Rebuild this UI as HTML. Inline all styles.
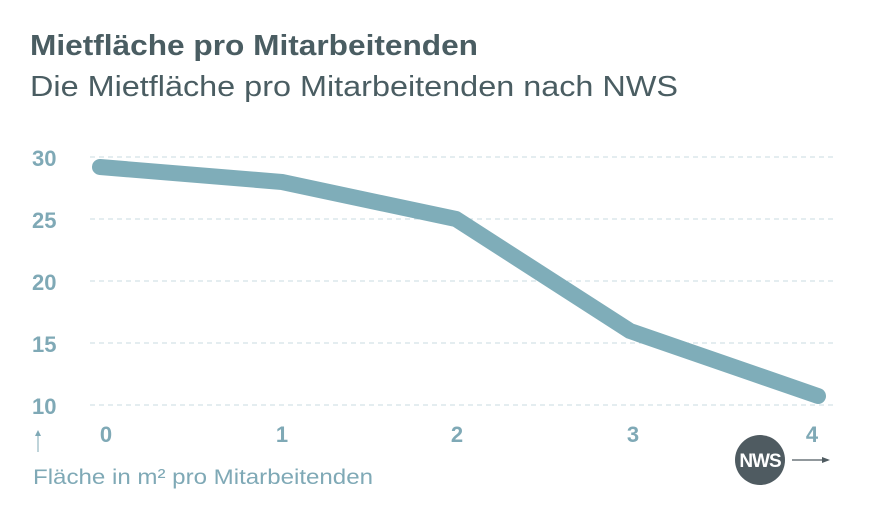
<!DOCTYPE html>
<html><head><meta charset="utf-8"><style>
body{margin:0;width:888px;height:513px;background:#fff;overflow:hidden;font-family:"Liberation Sans",sans-serif}
</style></head><body>
<svg width="888" height="513" xmlns="http://www.w3.org/2000/svg" style="position:absolute;left:0;top:0">
<text x="30" y="55" font-size="29" font-weight="bold" fill="#4a5d62" textLength="448" lengthAdjust="spacingAndGlyphs">Mietfläche pro Mitarbeitenden</text>
<text x="30" y="96" font-size="29" fill="#4a5d62" textLength="648" lengthAdjust="spacingAndGlyphs">Die Mietfläche pro Mitarbeitenden nach NWS</text>
<g stroke="#c9dbe0" stroke-width="1" stroke-dasharray="5,4">
<line x1="90" y1="157" x2="834" y2="157"/>
<line x1="90" y1="219" x2="834" y2="219"/>
<line x1="90" y1="281" x2="834" y2="281"/>
<line x1="90" y1="343" x2="834" y2="343"/>
<line x1="90" y1="405" x2="834" y2="405"/>
</g>
<g font-size="22" font-weight="bold" fill="#7fa9b6">
<text x="32" y="166">30</text>
<text x="32" y="228">25</text>
<text x="32" y="290">20</text>
<text x="32" y="352">15</text>
<text x="32" y="414">10</text>
<g text-anchor="middle">
<text x="106" y="442">0</text>
<text x="282" y="442">1</text>
<text x="457" y="442">2</text>
<text x="633" y="442">3</text>
<text x="812" y="442">4</text>
</g></g>
<polyline points="100,167 282,182 456,219 630,331 818,396" fill="none" stroke="#7fadb9" stroke-width="16" stroke-linecap="round" stroke-linejoin="round"/>
<line x1="38" y1="452" x2="38" y2="432" stroke="#7fa9b6" stroke-width="1"/>
<path d="M35,436 L38,430 L41,436Z" fill="#7fa9b6"/>
<text x="33" y="484" font-size="21" fill="#7fa9b6" textLength="340" lengthAdjust="spacingAndGlyphs">Fläche in m² pro Mitarbeitenden</text>
<circle cx="760" cy="460" r="25" fill="#4f5b61"/>
<text x="760" y="467" font-size="19" font-weight="bold" fill="#fff" text-anchor="middle" letter-spacing="-1">NWS</text>
<line x1="792" y1="460" x2="828" y2="460" stroke="#4f5b61" stroke-width="1.2"/>
<path d="M822,457 L830,460 L822,463Z" fill="#4f5b61"/>
</svg>
</body></html>
